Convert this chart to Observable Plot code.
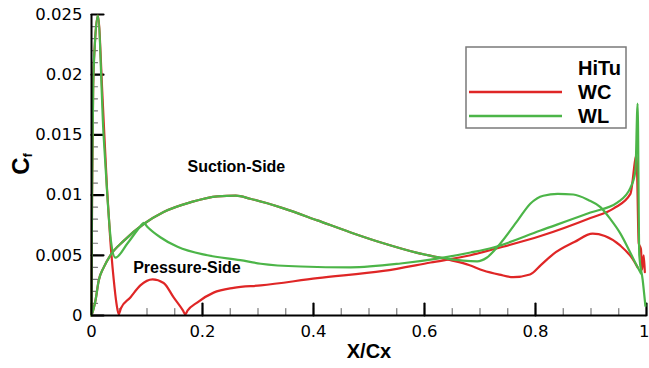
<!DOCTYPE html>
<html><head><meta charset="utf-8">
<script src="https://cdn.jsdelivr.net/npm/d3@7"></script>
<script src="https://cdn.jsdelivr.net/npm/@observablehq/plot@0.6"></script>
<style>body{margin:0;background:#fff}</style>
</head><body><div id="chart"></div>
<script>
// ---- data ----
const sideX = [0, 0.004, 0.007, 0.013, 0.022, 0.034, 0.058, 0.094, 0.13, 0.178, 0.227, 0.26, 0.286, 0.346, 0.407, 0.467, 0.526, 0.587];
const sideY = [0, 0.0006, 0.0012, 0.0029, 0.004, 0.005, 0.0062, 0.0076, 0.0086, 0.0094, 0.0099, 0.00995, 0.0097, 0.0089, 0.0079, 0.0069, 0.006, 0.0052];

const wcSuctionTailX = [0.647, 0.68, 0.706, 0.735, 0.76, 0.79, 0.81, 0.832, 0.87, 0.903, 0.925, 0.953, 0.975, 0.984];
const wcSuctionTailY = [0.0046, 0.0042, 0.00374, 0.0034, 0.00318, 0.0034, 0.0042, 0.0051, 0.0061, 0.0068, 0.0066, 0.0058, 0.0047, 0.004];

const wlSuctionTailX = [0.629, 0.67, 0.695, 0.712, 0.737, 0.768, 0.791, 0.814, 0.84, 0.868, 0.895, 0.917, 0.935, 0.953, 0.97, 0.984, 0.99];
const wlSuctionTailY = [0.0048, 0.00455, 0.0045, 0.0048, 0.006, 0.0079, 0.0093, 0.00995, 0.0101, 0.01005, 0.0096, 0.009, 0.008, 0.0068, 0.0053, 0.004, 0.0035];

const wcPressureX = [0, 0.001, 0.003, 0.006, 0.0115, 0.02, 0.028, 0.034, 0.04, 0.045, 0.049, 0.053, 0.07, 0.088, 0.11, 0.13, 0.148, 0.165, 0.169, 0.173, 0.191, 0.22, 0.256, 0.305, 0.407, 0.526, 0.611, 0.683, 0.724, 0.809, 0.899, 0.941, 0.971, 0.982, 0.986, 0.99, 0.992, 0.995, 0.997];
const wcPressureY = [0, 0.01, 0.019, 0.0225, 0.0249, 0.018, 0.0105, 0.0062, 0.003, 0.001, 0.0001, 0.0006, 0.0015, 0.0025, 0.003, 0.0027, 0.0015, 0.0004, 0.0001, 0.0004, 0.0011, 0.0019, 0.0023, 0.0025, 0.0031, 0.0037, 0.0044, 0.005, 0.0055, 0.0066, 0.0081, 0.0089, 0.0101, 0.0133, 0.006, 0.0055, 0.0038, 0.005, 0.0036];

const wlPressureX = [0, 0.001, 0.003, 0.006, 0.0115, 0.0216, 0.029, 0.035, 0.043, 0.065, 0.088, 0.094, 0.1, 0.124, 0.155, 0.209, 0.268, 0.305, 0.377, 0.467, 0.557, 0.623, 0.683, 0.724, 0.809, 0.899, 0.948, 0.971, 0.98, 0.984, 0.987, 0.993, 0.998];
const wlPressureY = [0, 0.01, 0.019, 0.0225, 0.0249, 0.0151, 0.0096, 0.0062, 0.0048, 0.006, 0.0074, 0.0077, 0.0074, 0.0065, 0.0057, 0.005, 0.0046, 0.0043, 0.00407, 0.004, 0.00432, 0.00473, 0.00523, 0.00565, 0.00706, 0.00855, 0.0094, 0.0106, 0.012, 0.0176, 0.005, 0.003, 0.0008];

const xMajor = [0, 0.2, 0.4, 0.6, 0.8, 1];
const xMajorLabels = ["0", "0.2", "0.4", "0.6", "0.8", "1"];
const yMajor = [0, 0.005, 0.01, 0.015, 0.02, 0.025];
const yMajorLabels = ["0", "0.005", "0.01", "0.015", "0.02", "0.025"];
const xMinor = d3.range(0, 21).map(i => i / 20);
const yMinor = d3.range(0, 26).map(i => i / 1000);

const seriesNames = ["HiTu", "WC", "WL"];
const seriesColors = {WC: "#df2626", WL: "#4cb548"};
const annotations = [
  {label: "Suction-Side", x: 0.261, y: 0.0119},
  {label: "Pressure-Side", x: 0.172, y: 0.0035}
];

const pts = (xs, ys) => xs.map((x, i) => ({x, y: ys[i]}));
const wcSuction = pts(sideX.concat(wcSuctionTailX), sideY.concat(wcSuctionTailY));
const wlSuction = pts(sideX.concat(wlSuctionTailX), sideY.concat(wlSuctionTailY));
const wcPressure = pts(wcPressureX, wcPressureY);
const wlPressure = pts(wlPressureX, wlPressureY);

const lineOpts = (c) => ({x: "x", y: "y", stroke: c, strokeWidth: 2.2, curve: "monotone-x"});
const bold = "Liberation Sans, Arial, sans-serif";
const xLabelsMain = xMajor.slice(0, 5);

const W = 649, H = 368, mL = 91, mR = 3, mT = 14, mB = 53;
const xDom = [0, 1], yDom = [0, 0.025];
const frameW = W - mL - mR, frameH = H - mT - mB;
const px2x = (p) => p * (xDom[1] - xDom[0]) / frameW;
const px2y = (p) => p * (yDom[1] - yDom[0]) / frameH;
// inward tick segments (two points each), length given in pixels
const xTickSegs = (vals, len) => vals.flatMap((v, k) => [{x: v, y: 0, k}, {x: v, y: px2y(len), k}]);
const yTickSegs = (vals, len) => vals.flatMap((v, k) => [{x: 0, y: v, k}, {x: px2x(len), y: v, k}]);

const chart = Plot.plot({
  width: W, height: H,
  marginLeft: mL, marginRight: mR, marginTop: mT, marginBottom: mB,
  x: {domain: xDom},
  y: {domain: yDom},
  style: {fontFamily: "DejaVu Sans, sans-serif", fontSize: "16.5px", color: "black", background: "white", overflow: "visible"},
  marks: [
    Plot.line(xTickSegs(xMinor, 7), {x: "x", y: "y", z: "k", stroke: "#7a7a7a", strokeWidth: 1.2}),
    Plot.line(yTickSegs(yMinor, 6), {x: "x", y: "y", z: "k", stroke: "#7a7a7a", strokeWidth: 1.2}),
    Plot.line(xTickSegs(xMajor, 12), {x: "x", y: "y", z: "k", stroke: "black", strokeWidth: 2.2}),
    Plot.line(yTickSegs(yMajor, 12), {x: "x", y: "y", z: "k", stroke: "black", strokeWidth: 2.2}),
    // tick labels
    Plot.axisX(xLabelsMain, {tickSize: 0, tickPadding: 10, tickFormat: (d, i) => xMajorLabels[i], label: null}),
    Plot.axisX([1], {tickSize: 0, tickPadding: 10, dx: 3, textAnchor: "end", tickFormat: () => xMajorLabels[5], label: null}),
    Plot.axisY(yMajor, {tickSize: 0, tickPadding: 9, tickFormat: (d, i) => yMajorLabels[i], label: null}),
    Plot.line(wcSuction, lineOpts(seriesColors.WC)),
    Plot.line(wcPressure, lineOpts(seriesColors.WC)),
    Plot.line(wlSuction, lineOpts(seriesColors.WL)),
    Plot.line(wlPressure, lineOpts(seriesColors.WL)),
    Plot.ruleY([0], {strokeWidth: 2}),
    Plot.ruleX([0], {strokeWidth: 2}),
    Plot.text(annotations, {x: "x", y: "y", text: "label", fontWeight: "bold", fontSize: 16, fontFamily: bold, lineAnchor: "bottom", textAnchor: "middle"}),
    Plot.text(["X/Cx"], {frameAnchor: "bottom", dy: 42, fontWeight: "bold", fontSize: 20, fontFamily: bold, lineAnchor: "bottom"})
  ]
});

const svg = d3.select(chart);
// y-axis title C_f
const yt = svg.append("text")
  .attr("transform", "translate(29,164) rotate(-90)")
  .attr("text-anchor", "middle")
  .attr("font-family", bold).attr("font-weight", "bold").attr("fill", "black");
yt.append("tspan").attr("font-size", 24).text("C");
yt.append("tspan").attr("font-size", 12).attr("dy", 3).text("f");

// legend
const lg = svg.append("g");
lg.append("rect").attr("x", 466).attr("y", 47).attr("width", 160).attr("height", 81)
  .attr("fill", "white").attr("stroke", "#7a7a7a").attr("stroke-width", 1.5);
const rows = [75, 99, 123];
seriesNames.forEach((name, i) => {
  if (seriesColors[name]) {
    lg.append("line").attr("x1", 469).attr("x2", 562).attr("y1", rows[i] - 7).attr("y2", rows[i] - 7)
      .attr("stroke", seriesColors[name]).attr("stroke-width", 2.5);
  }
  lg.append("text").attr("x", 578).attr("y", rows[i]).attr("text-anchor", "start").attr("font-family", bold)
    .attr("font-weight", "bold").attr("font-size", 20).attr("fill", "black").text(name);
});

document.getElementById("chart").appendChild(chart);
</script>
</body></html>
